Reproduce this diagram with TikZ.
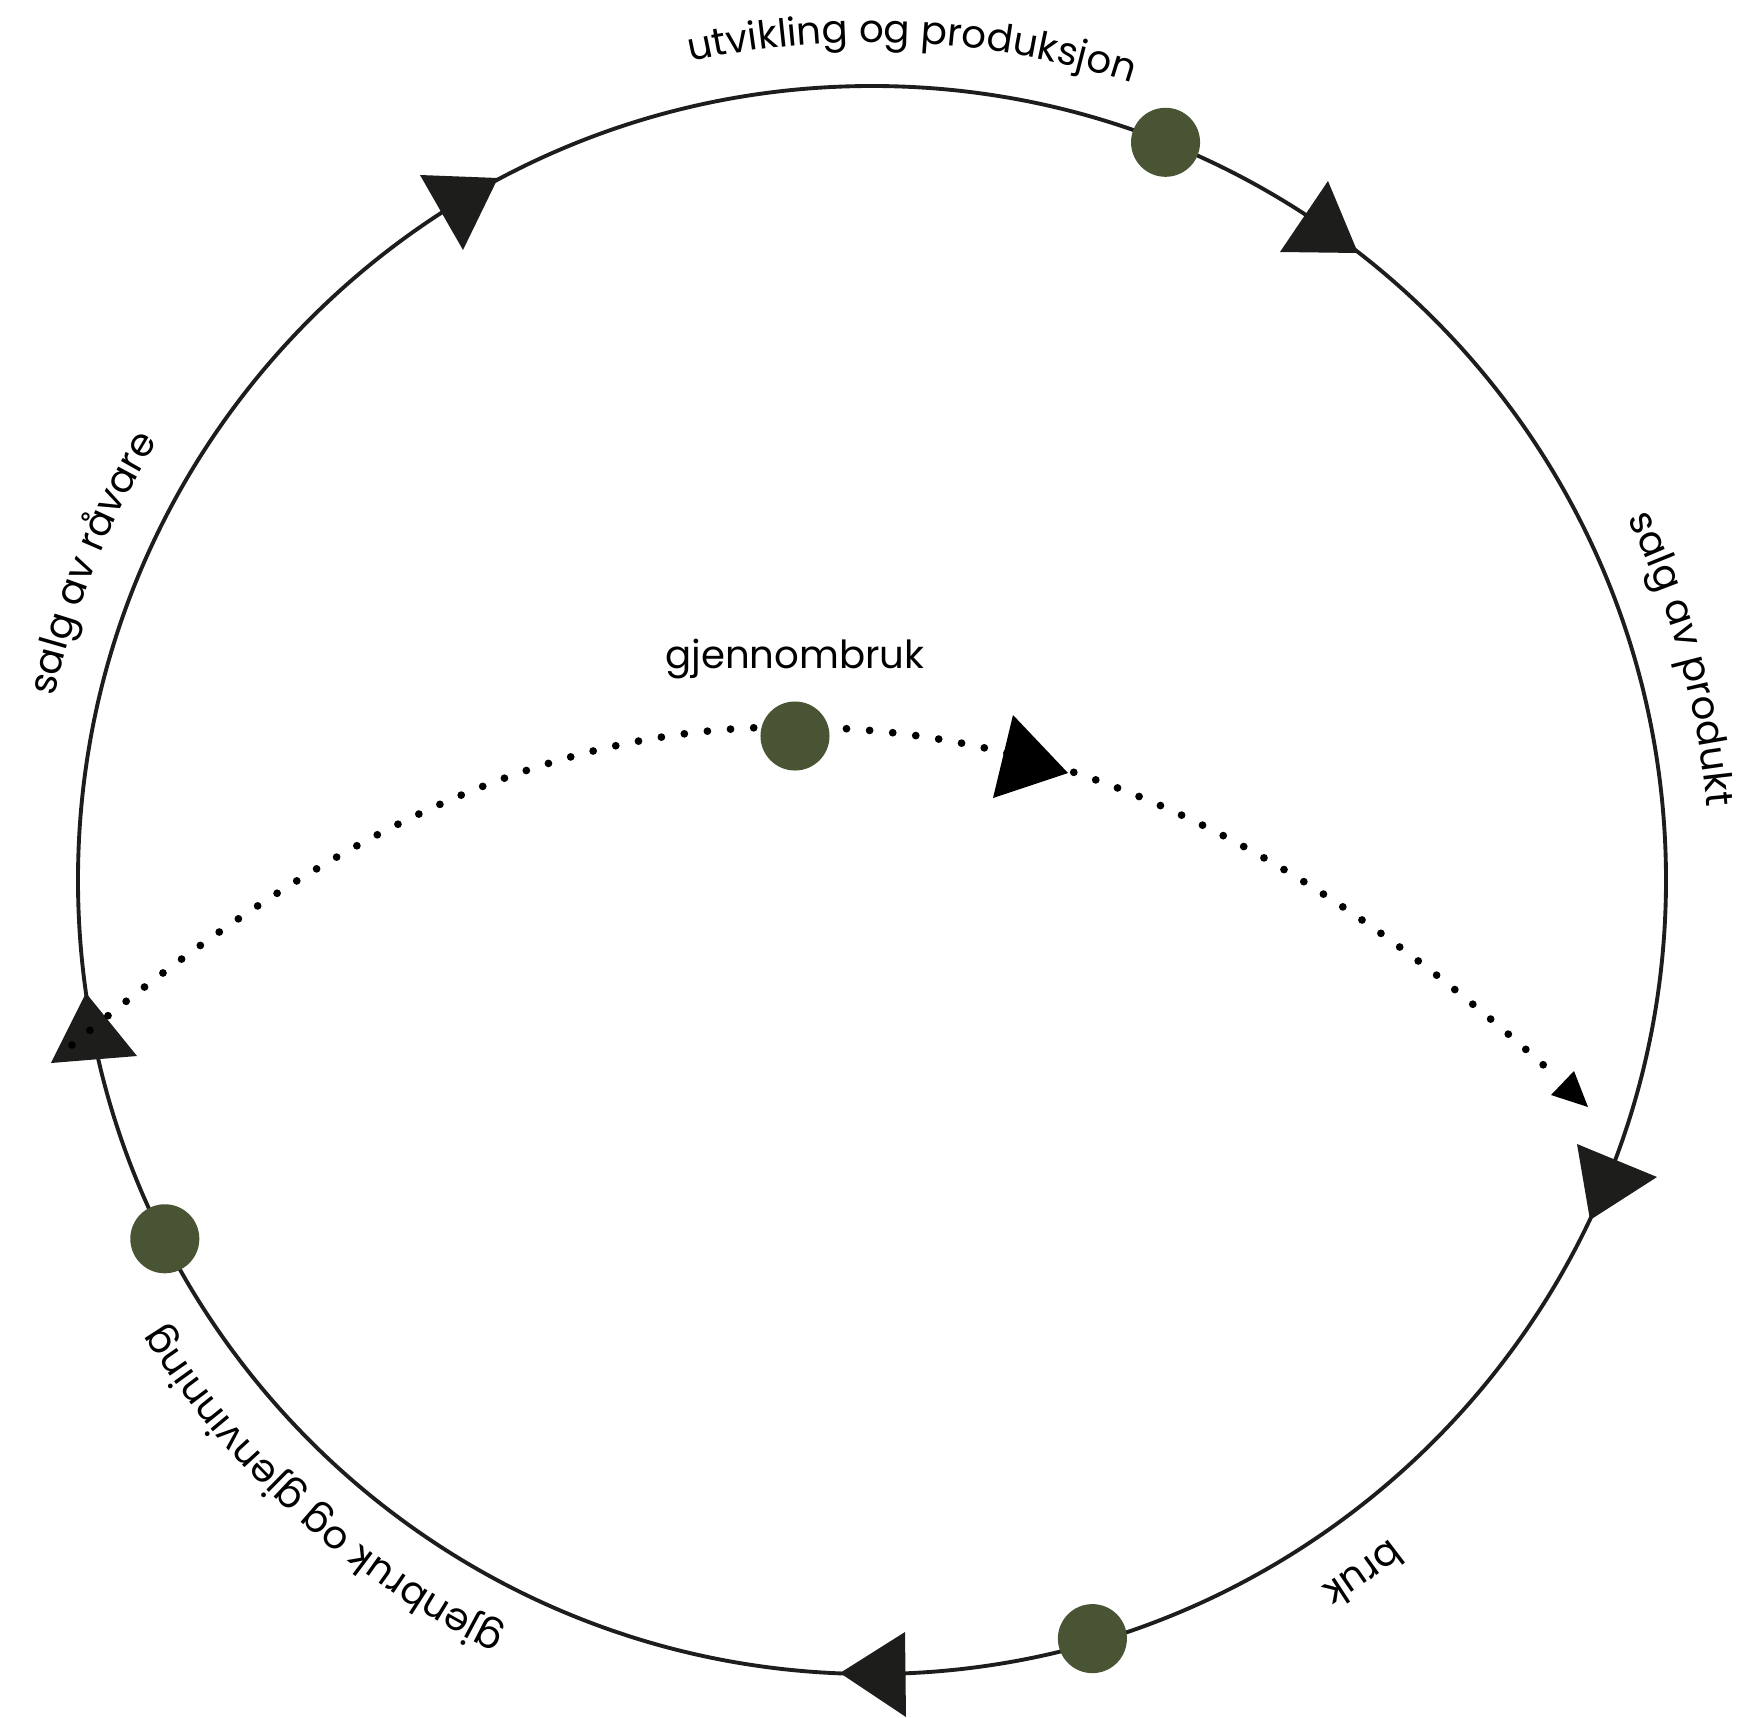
\documentclass[tikz,border=0pt]{standalone}
\usepackage{fontspec}
\setmainfont{Poppins}
\usepackage{tikz}
\usetikzlibrary{positioning,decorations.text}
\definecolor{ink}{RGB}{29,29,27}
\definecolor{moss}{RGB}{72,84,52}
\newcommand{\labelsize}{\fontsize{11}{13}\selectfont}
\tikzstyle{stage} = [circle, fill=moss, minimum size=0.69cm, inner sep=0pt]
\tikzstyle{ring}  = [draw=ink, line width=1.1pt]
\tikzstyle{tip}   = [fill=ink]
\tikzstyle{reuse} = [line width=2.2pt, line cap=round, dash pattern=on 0pt off 6.6pt]
\newcommand{\ringtext}[2]{\path[decorate, decoration={text along path, text align=center,
    text={|\labelsize|#2}}] ({#1+40}:838) arc ({#1+40}:{#1-40}:838);}

\begin{document}
\begin{tikzpicture}[x=0.01cm, y=0.01cm]
	\useasboundingbox (-872,-837) rectangle (874,880);
	\draw[ring] (0,0) circle (794);
	\fill[tip] (-452,705) -- (-374,702) -- (-409,630) -- cycle;
	\fill[tip] (456,699) -- (408,628) -- (486,627) -- cycle;
	\fill[tip] (705,-264) -- (785,-297) -- (718,-340) -- cycle;
	\fill[tip] (-32,-793) -- (33,-752) -- (34,-837) -- cycle;
	\fill[tip] (-786,-113) -- (-821,-183) -- (-735,-176) -- cycle;
	\coordinate (from) at (-800,-165);
	\coordinate (crest) at (-82,153);
	\coordinate (to) at (677,-190);
	\draw[reuse] (from) .. controls (-550,42) and (-332,153) .. (crest)
		.. controls (218,153) and (454,11) .. (to);
	\fill (141,165) -- (196,107) -- (121,82) -- cycle;
	\fill (702,-191) -- (679,-215) -- (716,-227) -- cycle;
	\node[stage] (make) at (68.3:794) {};
	\node[stage] (use) at (-73.8:790) {};
	\node[stage] (back) at (206.9:793) {};
	\node[stage] (hubdot) at (-77,144) {};
	\node[above=0.21cm of hubdot, inner sep=0pt, font=\labelsize] (hubtext) {gjennombruk};
	\ringtext{87.25}{utvikling og produksjon}
	\ringtext{15.3}{salg av produkt}
	\ringtext{-54.7}{bruk}
	\ringtext{228}{gjenbruk og gjenvinning}
	\ringtext{157.9}{salg av råvare}
\end{tikzpicture}
\end{document}
